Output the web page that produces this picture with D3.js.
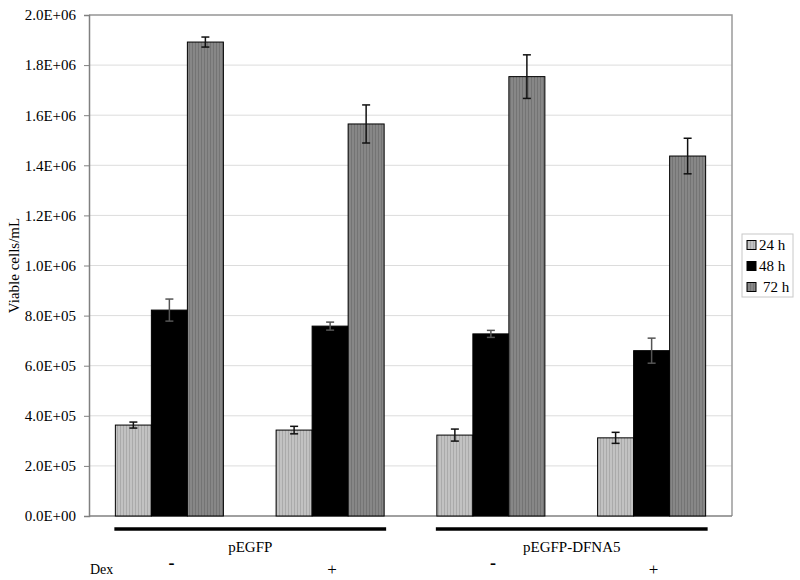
<!DOCTYPE html>
<html>
<head>
<meta charset="utf-8">
<script src="https://cdn.jsdelivr.net/npm/d3@7"></script>
<style>
  body { margin: 0; background: #fff; }
  text { font-family: "Liberation Serif", "DejaVu Serif", serif; fill: #000; }
</style>
</head>
<body>
<div id="chart"></div>
<script>
// DATA
const categories = ['pEGFP -', 'pEGFP +', 'pEGFP-DFNA5 -', 'pEGFP-DFNA5 +'];
const series = ['24 h', '48 h', '72 h'];
const values24 = [363000, 343000, 323000, 312000];
const errors24 = [12000, 15000, 24000, 22000];
const values48 = [822000, 758000, 727000, 660000];
const errors48 = [44000, 16000, 14000, 50000];
const values72 = [1892000, 1565000, 1754000, 1437000];
const errors72 = [20000, 76000, 87000, 71000];
const dexLabels = ['-', '+', '-', '+'];
const constructs = ['pEGFP', 'pEGFP-DFNA5'];
const yTicks = [0, 200000, 400000, 600000, 800000, 1000000, 1200000, 1400000, 1600000, 1800000, 2000000];

// sciLabel
// format a number like Excel does : 2.0E+06
function sciLabel(v) {
  if (v === 0) return '0.0E+00';
  let exp = Math.floor(Math.log10(v));
  let mant = v / Math.pow(10, exp);
  return mant.toFixed(1) + 'E+' + String(exp).padStart(2, '0');
}

drawChart();

function drawChart() {
  const width = 800, height = 580;
  const margin = {left: 89, top: 15, right: 68, bottom: 64};

  let svg = d3.select('#chart').append('svg')
    .attr('width', width)
    .attr('height', height);

  // patterns for the striped bars
  let defs = svg.append('defs');
  function stripes(id, bg, fg) {
    let p = defs.append('pattern').attr('id', id)
      .attr('patternUnits', 'userSpaceOnUse').attr('width', 3).attr('height', 10);
    p.append('rect').attr('width', 3).attr('height', 10).attr('fill', bg);
    p.append('rect').attr('width', 1).attr('height', 10).attr('fill', fg);
  }
  stripes('p24', '#c2c2c2', '#aaaaaa');
  stripes('p72', '#878787', '#747474');
  const fills = ['url(#p24)', '#000', 'url(#p72)'];

  const x0 = margin.left, x1 = width - margin.right;
  const yTop = margin.top, yBot = height - margin.bottom;

  let y = d3.scaleLinear().domain([0, 2000000]).range([yBot, yTop]);
  let x = d3.scaleBand().domain(categories).range([x0, x1]).padding(0);
  const bw = x.bandwidth();
  const gw = bw * 0.672;
  let xs = d3.scaleBand().domain(series).range([(bw - gw) / 2, (bw + gw) / 2]).padding(0);

  // gridlines
  svg.append('g').selectAll('line').data(yTicks.slice(1)).enter().append('line')
    .attr('x1', x0).attr('x2', x1)
    .attr('y1', d => y(d)).attr('y2', d => y(d))
    .attr('stroke', '#dcdcdc').attr('stroke-width', 1);

  // plot frame (right and top)
  svg.append('path')
    .attr('d', 'M' + x0 + ',' + yTop + 'H' + x1 + 'V' + yBot)
    .attr('fill', 'none').attr('stroke', '#9a9a9a').attr('stroke-width', 1.5);

  // y axis
  let yAxis = d3.axisLeft(y).tickValues(yTicks).tickFormat(sciLabel).tickSize(5).tickPadding(8);
  let ag = svg.append('g').attr('transform', 'translate(' + x0 + ',0)').call(yAxis)
    .attr('font-family', null).attr('font-size', null);
  ag.select('.domain').attr('stroke', '#808080').attr('stroke-width', 1.5);
  ag.selectAll('.tick line').attr('stroke', '#808080');
  ag.selectAll('.tick text').style('font-family', '"Liberation Serif", serif').style('font-size', '15px').attr('fill', '#000');

  // x baseline
  svg.append('line').attr('x1', x0).attr('x2', x1).attr('y1', yBot).attr('y2', yBot)
    .attr('stroke', '#808080').attr('stroke-width', 1.5);

  svg.append('text')
    .attr('transform', 'translate(19,' + ((yTop + yBot) / 2) + ') rotate(-90)')
    .attr('text-anchor', 'middle').style('font-size', '15px')
    .text('Viable cells/mL');

  // bars
  const vals = [values24, values48, values72];
  const errs = [errors24, errors48, errors72];
  let rows = [];
  categories.forEach((c, i) => {
    series.forEach((s, j) => {
      rows.push({cat: c, ser: s, j: j, v: vals[j][i], e: errs[j][i]});
    });
  });

  svg.append('g').selectAll('rect').data(rows).enter().append('rect')
    .attr('x', d => x(d.cat) + xs(d.ser))
    .attr('y', d => y(d.v))
    .attr('width', xs.bandwidth())
    .attr('height', d => yBot - y(d.v))
    .attr('fill', d => fills[d.j])
    .attr('stroke', '#000').attr('stroke-width', 1);

  // error bars
  let eg = svg.append('g').attr('stroke-width', 1.5);
  rows.forEach(d => {
    let cx = x(d.cat) + xs(d.ser) + xs.bandwidth() / 2;
    let stroke = d.j === 1 ? '#555' : '#111';
    eg.append('line').attr('x1', cx).attr('x2', cx).attr('y1', y(d.v + d.e)).attr('y2', y(d.v - d.e)).attr('stroke', stroke);
    eg.append('line').attr('x1', cx - 4).attr('x2', cx + 4).attr('y1', y(d.v + d.e)).attr('y2', y(d.v + d.e)).attr('stroke', stroke);
    eg.append('line').attr('x1', cx - 4).attr('x2', cx + 4).attr('y1', y(d.v - d.e)).attr('y2', y(d.v - d.e)).attr('stroke', stroke);
  });

  // legend
  let lg = svg.append('g');
  lg.append('rect').attr('x', 742).attr('y', 234).attr('width', 51).attr('height', 63)
    .attr('fill', '#fff').attr('stroke', '#c8c8c8');
  series.forEach((s, j) => {
    let ly = 245 + j * 21;
    lg.append('rect').attr('x', 747).attr('y', ly - 4.5).attr('width', 9).attr('height', 9)
      .attr('fill', fills[j]).attr('stroke', '#000').attr('stroke-width', 1);
    lg.append('text').attr('x', j === 2 ? 763 : 759).attr('y', ly + 5).style('font-size', '15px').text(s);
  });

  // construct lines and labels
  constructs.forEach((c, k) => {
    let a = categories[k * 2], b = categories[k * 2 + 1];
    let lx1 = x(a) + xs('24 h') - 1;
    let lx2 = x(b) + xs('72 h') + xs.bandwidth() + 2;
    svg.append('line').attr('x1', lx1).attr('x2', lx2).attr('y1', 529).attr('y2', 529)
      .attr('stroke', '#000').attr('stroke-width', 3.5);
    svg.append('text').attr('x', (lx1 + lx2) / 2).attr('y', 552)
      .attr('text-anchor', 'middle').style('font-size', '15px').text(c);
  });

  svg.append('text').attr('x', 90).attr('y', 574).style('font-size', '14px').text('Dex');
  categories.forEach((c, i) => {
    let cx = x(c) + bw / 2;
    if (dexLabels[i] === '-') {
      svg.append('text').attr('x', cx + 2).attr('y', 569).attr('text-anchor', 'middle')
        .style('font-size', '18px').style('font-weight', 'bold').text('-');
    } else {
      svg.append('text').attr('x', cx + 2).attr('y', 575).attr('text-anchor', 'middle')
        .style('font-size', '17px').text('+');
    }
  });
}
</script>
</body>
</html>
